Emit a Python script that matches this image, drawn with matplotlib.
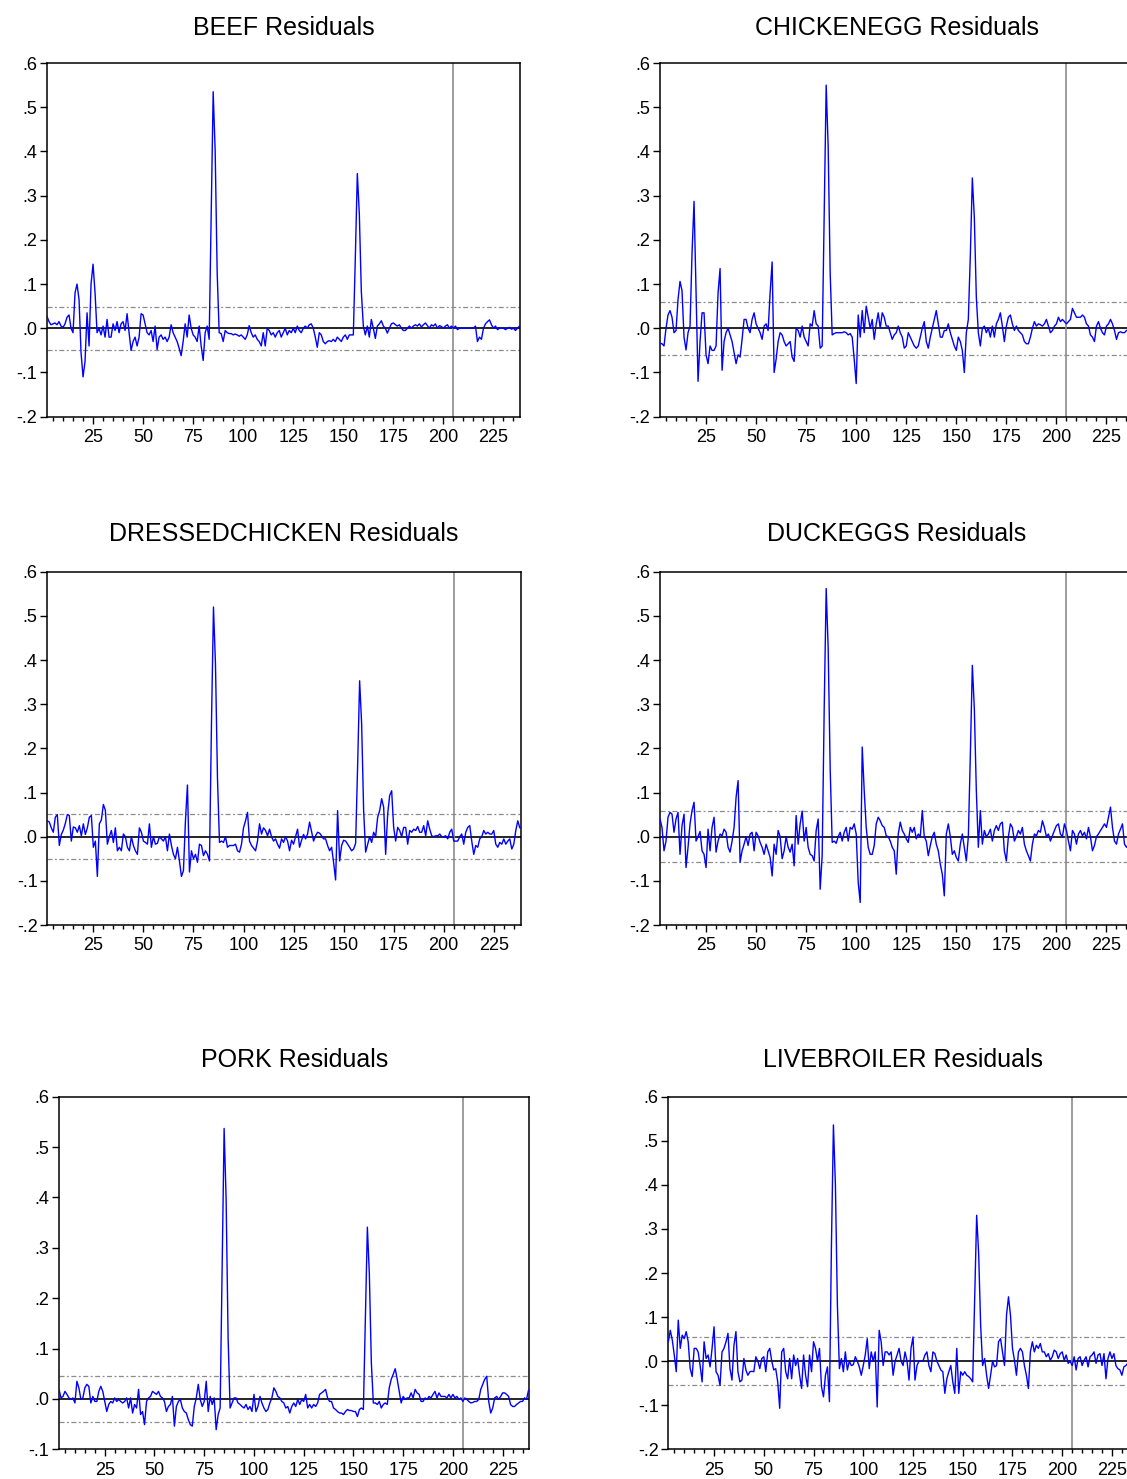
import numpy as np
import matplotlib
matplotlib.use("Agg")
import matplotlib.pyplot as plt
from matplotlib.ticker import MultipleLocator, FuncFormatter

plt.rcParams['font.family'] = ['Liberation Sans', 'DejaVu Sans']

# ---------------- data (observation 1..240) ----------------
titles = ["BEEF Residuals", "CHICKENEGG Residuals", "DRESSEDCHICKEN Residuals",
          "DUCKEGGS Residuals", "PORK Residuals", "LIVEBROILER Residuals"]

beef = [
    0.03, 0.027, 0.015, 0.008, 0.01, 0.012, 0.008, 0.015, 0.005, 0.002,
    0.01, 0.025, 0.03, 0.0, -0.01, 0.08, 0.10, 0.065, -0.055, -0.11,
    -0.075, 0.035, -0.04, 0.10, 0.145, 0.08, -0.01, 0.0, -0.015, 0.005,
    -0.02, 0.02, -0.02, -0.02, 0.01, -0.005, 0.015, -0.01, 0.01, 0.015,
    -0.005, 0.033, -0.01, -0.05, -0.03, -0.02, -0.04, -0.02, 0.033, 0.03,
    0.01, -0.01, -0.015, -0.005, -0.03, 0.005, -0.048, -0.02, -0.015, -0.025,
    -0.02, -0.03, -0.02, 0.008, -0.01, -0.02, -0.03, -0.045, -0.062, -0.03,
    0.01, -0.02, 0.03, 0.0, -0.015, -0.02, -0.03, 0.005, -0.04, -0.073,
    -0.01, 0.005, -0.025, 0.25, 0.535, 0.40, 0.125, -0.01, -0.012, -0.03,
    -0.005, -0.01, -0.012, -0.012, -0.015, -0.013, -0.015, -0.018, -0.015, -0.02,
    -0.025, -0.015, 0.006, -0.01, -0.02, -0.015, -0.025, -0.03, -0.04, -0.01,
    -0.04, 0.0, -0.005, -0.015, -0.01, -0.02, -0.01, -0.005, -0.02, -0.01,
    0.0, -0.015, -0.005, -0.01, 0.0, -0.01, 0.005, -0.005, -0.01, 0.0,
    0.005, 0.0, 0.008, 0.01, 0.0, -0.02, -0.043, -0.01, -0.015, -0.03,
    -0.035, -0.03, -0.028, -0.03, -0.025, -0.03, -0.02, -0.025, -0.03, -0.02,
    -0.015, -0.025, -0.015, -0.015, -0.015, 0.16, 0.35, 0.258, 0.083, 0.005,
    -0.015, 0.005, -0.02, 0.02, 0.0, -0.023, 0.005, 0.01, 0.017, 0.005,
    0.0, -0.011, 0.0, 0.01, 0.012, 0.008, 0.005, 0.008, 0.0, -0.005,
    -0.005, 0.0, 0.005, 0.0, 0.005, 0.008, 0.005, 0.01, 0.003, 0.008,
    0.012, 0.006, 0.0, 0.008, 0.005, 0.01, 0.0, 0.006, 0.004, 0.0,
    0.005, 0.008, 0.0, 0.005, 0.0, 0.005, -0.003, 0.0, 0.0, 0.0,
    0.0, 0.0, 0.0, 0.0, 0.0, 0.005, -0.03, -0.02, -0.025, 0.0,
    0.01, 0.015, 0.019, 0.008, 0.0, 0.005, -0.003, 0.0, 0.0, 0.0,
    -0.003, 0.0, 0.002, -0.002, 0.0, -0.005, 0.0, 0.005, 0.005, 0.005,
]

chickenegg = [
    -0.03, -0.034, -0.035, -0.04, 0.0, 0.03, 0.04, 0.025, -0.01, -0.005,
    0.065, 0.106, 0.085, -0.02, -0.049, -0.01, 0.005, 0.17, 0.287, 0.079,
    -0.12, -0.03, 0.035, 0.035, -0.06, -0.08, -0.04, -0.05, -0.05, -0.04,
    0.08, 0.135, -0.095, -0.03, -0.01, 0.0, -0.015, -0.03, -0.055, -0.08,
    -0.06, -0.065, -0.025, 0.02, 0.02, 0.0, -0.01, 0.02, 0.035, 0.01,
    0.0, -0.01, -0.025, 0.005, 0.01, -0.005, 0.08, 0.15, -0.1, -0.07,
    -0.03, -0.01, -0.015, -0.03, -0.04, -0.035, -0.03, -0.065, -0.075, 0.0,
    -0.005, -0.02, 0.005, -0.02, -0.03, -0.04, 0.01, 0.005, 0.04, 0.01,
    0.005, -0.045, -0.04, 0.255, 0.55, 0.41, 0.125, -0.015, -0.012, -0.01,
    -0.01, -0.01, -0.01, -0.008, -0.01, -0.015, -0.012, -0.02, -0.07, -0.125,
    0.03, -0.02, 0.04, -0.01, 0.05, 0.025, 0.0, 0.02, -0.025, 0.01,
    0.035, 0.0, 0.035, 0.025, 0.005, 0.005, -0.01, -0.025, -0.015, -0.01,
    0.005, -0.01, -0.02, -0.045, -0.04, -0.01, -0.02, -0.03, -0.04, -0.045,
    -0.04, -0.02, 0.0, 0.015, -0.03, -0.045, -0.02, 0.0, 0.02, 0.04,
    0.01, -0.02, -0.02, -0.005, -0.005, 0.01, -0.01, -0.025, -0.04, -0.05,
    -0.02, -0.03, -0.05, -0.1, -0.01, 0.02, 0.165, 0.34, 0.25, 0.07,
    -0.01, -0.04, 0.0, 0.005, -0.01, 0.0, -0.02, 0.005, -0.02, 0.01,
    0.02, 0.035, 0.005, -0.03, 0.005, 0.025, 0.03, 0.01, -0.005, 0.005,
    -0.005, -0.01, -0.015, -0.03, -0.035, -0.035, -0.02, 0.0, 0.015, 0.005,
    0.01, 0.008, 0.005, 0.01, 0.02, 0.005, -0.01, -0.005, 0.005, 0.01,
    0.025, 0.015, 0.02, 0.015, 0.01, 0.015, 0.02, 0.045, 0.035, 0.025,
    0.025, 0.025, 0.03, 0.025, 0.01, 0.005, -0.015, -0.02, -0.03, 0.005,
    0.015, 0.0, -0.01, -0.015, 0.005, 0.01, 0.02, 0.01, -0.005, -0.025,
    -0.01, -0.008, -0.01, -0.01, -0.005, -0.005, -0.005, 0.0, 0.0, 0.0,
]

dressedchicken = [
    0.036, 0.036, 0.033, 0.02, 0.01, 0.044, 0.05, -0.02, 0.005, 0.015,
    0.03, 0.05, 0.048, -0.01, 0.022, 0.02, 0.01, 0.025, 0.002, 0.029,
    0.005, 0.02, 0.044, 0.048, -0.024, -0.01, -0.09, 0.029, 0.038, 0.073,
    0.06, -0.017, 0.0, 0.014, -0.013, 0.02, -0.032, -0.024, -0.032, 0.006,
    0.0, -0.024, -0.032, 0.0, -0.02, -0.032, -0.04, 0.02, 0.01, -0.01,
    -0.013, -0.017, 0.029, -0.024, 0.0, -0.017, -0.015, 0.0, -0.005, -0.01,
    0.0, -0.032, 0.006, -0.02, -0.04, -0.05, -0.024, -0.055, -0.09, -0.077,
    0.036, 0.117, -0.08, -0.032, -0.05, -0.04, -0.058, -0.017, -0.02, -0.043,
    -0.032, -0.04, -0.055, 0.256, 0.52, 0.39, 0.132, -0.013, -0.01, -0.013,
    0.0, -0.024, -0.02, -0.02, -0.02, -0.017, -0.032, -0.035, -0.017, 0.02,
    0.036, 0.055, -0.01, -0.02, -0.026, -0.032, -0.01, 0.029, 0.006, 0.02,
    0.014, 0.002, 0.017, 0.0, -0.01, -0.005, -0.017, -0.026, -0.005, -0.013,
    0.0, -0.01, -0.032, -0.008, -0.017, 0.0, 0.017, -0.024, -0.008, 0.005,
    -0.005, 0.006, 0.033, 0.012, -0.01, 0.002, 0.01, 0.008, 0.002, -0.005,
    -0.005, -0.02, -0.032, -0.024, -0.058, -0.098, 0.059, -0.055, -0.02, -0.008,
    -0.01, -0.017, -0.024, -0.032, -0.028, -0.015, 0.161, 0.353, 0.256, 0.059,
    -0.035, -0.017, 0.0, -0.013, 0.01, 0.0, 0.044, 0.059, 0.086, 0.067,
    -0.04, 0.051, 0.093, 0.104, 0.021, -0.01, 0.021, 0.014, 0.0, 0.021,
    0.021, -0.017, 0.014, 0.01, 0.017, 0.014, 0.023, 0.01, 0.01, 0.025,
    0.002, 0.036, 0.017, 0.002, 0.0, 0.002, 0.002, 0.006, 0.0, 0.0,
    0.002, -0.005, 0.01, 0.017, -0.01, -0.01, -0.01, 0.0, 0.006, -0.017,
    0.01, 0.021, 0.025, -0.01, -0.04, -0.02, -0.024, -0.005, 0.0, 0.014,
    0.006, 0.01, 0.006, 0.006, 0.014, -0.017, -0.024, -0.013, -0.017, -0.005,
    -0.017, -0.01, -0.005, -0.028, -0.017, 0.014, 0.036, 0.02, 0.02, 0.02,
]

duckeggs = [
    0.03, 0.04, 0.021, -0.032, -0.01, 0.044, 0.055, 0.051, 0.01, 0.04,
    0.055, -0.04, 0.025, 0.051, -0.07, -0.024, 0.029, 0.059, 0.078, -0.01,
    0.0, 0.012, -0.032, -0.04, -0.07, 0.017, -0.032, 0.021, 0.044, -0.035,
    -0.01, 0.006, 0.002, 0.017, 0.01, -0.024, -0.035, -0.01, 0.021, 0.089,
    0.127, -0.058, -0.032, -0.017, 0.0, -0.02, 0.006, 0.01, -0.032, 0.01,
    0.002, -0.013, -0.024, -0.04, -0.017, -0.032, -0.047, -0.089, -0.017, -0.04,
    0.014, 0.0, -0.05, -0.032, 0.0, -0.024, -0.035, -0.017, -0.066, 0.048,
    -0.017, 0.029, 0.058, -0.01, 0.021, -0.024, -0.04, -0.043, -0.055, 0.014,
    0.04, -0.119, -0.043, 0.286, 0.562, 0.426, 0.154, -0.013, -0.01, -0.015,
    0.0, 0.01, -0.01, 0.01, 0.021, -0.01, 0.021, 0.017, 0.029, 0.006,
    -0.104, -0.149, 0.203, 0.104, 0.021, -0.024, -0.04, -0.04, -0.02, 0.029,
    0.044, 0.036, 0.025, 0.021, 0.002, 0.0, -0.01, -0.024, -0.032, -0.085,
    0.006, 0.033, 0.014, 0.006, -0.005, -0.013, 0.021, 0.01, 0.021, -0.005,
    0.006, 0.0, 0.059, 0.0, -0.01, -0.043, -0.02, 0.0, 0.01, -0.017,
    -0.032, -0.062, -0.085, -0.134, 0.006, 0.029, 0.0, -0.04, -0.032, -0.047,
    -0.055, -0.017, 0.006, -0.024, -0.055, 0.0, 0.184, 0.388, 0.29, 0.104,
    -0.024, 0.059, -0.017, 0.014, 0.0, 0.006, 0.017, -0.01, 0.014, 0.025,
    0.014, 0.029, 0.033, -0.032, -0.055, 0.0, 0.029, 0.021, -0.01, 0.0,
    0.014, 0.006, 0.021, -0.017, -0.032, -0.043, -0.055, -0.017, 0.006, 0.002,
    0.014, 0.01, 0.036, 0.021, 0.0, 0.006, -0.01, 0.002, 0.014, 0.025,
    0.029, 0.006, 0.0, 0.029, 0.014, -0.01, -0.032, 0.014, 0.006, -0.017,
    0.006, 0.014, 0.002, 0.01, -0.005, 0.021, 0.0, -0.032, -0.02, 0.0,
    0.006, 0.014, 0.021, 0.029, 0.021, 0.044, 0.067, 0.021, -0.01, -0.017,
    0.006, 0.017, 0.029, -0.017, -0.024, -0.017, -0.01, 0.0, 0.0, 0.0,
]

pork = [
    0.02, 0.019, 0.002, 0.005, 0.015, 0.009, 0.002, -0.001, 0.002, -0.008,
    0.035, 0.022, -0.001, 0.002, 0.022, 0.029, 0.025, -0.008, 0.005, -0.005,
    -0.005, 0.015, 0.025, 0.015, -0.005, -0.025, -0.011, -0.005, -0.008, 0.002,
    -0.005, -0.001, -0.005, -0.008, -0.005, 0.002, -0.018, 0.002, -0.028, -0.011,
    -0.018, 0.019, -0.031, -0.025, -0.051, -0.005, 0.002, 0.005, 0.015, 0.012,
    0.009, 0.015, 0.005, 0.002, -0.005, -0.025, -0.015, -0.011, 0.005, -0.054,
    -0.015, -0.005, -0.001, -0.018, -0.025, -0.028, -0.041, -0.051, -0.054, -0.015,
    0.002, 0.029, -0.001, -0.015, -0.005, 0.035, -0.025, 0.005, -0.011, 0.002,
    -0.061, -0.031, -0.018, 0.258, 0.537, 0.397, 0.122, -0.018, -0.008, 0.002,
    0.002, -0.008, -0.011, -0.015, -0.018, -0.011, -0.021, -0.015, -0.025, 0.009,
    -0.025, -0.015, 0.005, -0.008, -0.018, -0.025, -0.021, -0.008, 0.002, 0.022,
    0.015, 0.005, 0.002, -0.005, -0.008, -0.018, -0.015, -0.028, -0.015, -0.008,
    -0.015, -0.001, -0.011, -0.001, -0.005, 0.009, -0.018, -0.011, -0.018, -0.011,
    -0.015, -0.008, 0.009, 0.012, 0.015, 0.019, 0.002, -0.005, -0.005, -0.018,
    -0.021, -0.025, -0.028, -0.028, -0.031, -0.025, -0.021, -0.023, -0.023, -0.025,
    -0.025, -0.035, -0.021, -0.018, -0.021, 0.158, 0.341, 0.248, 0.072, -0.008,
    -0.008, -0.011, -0.005, -0.018, -0.011, -0.008, -0.011, 0.022, 0.039, 0.049,
    0.06, 0.039, 0.015, -0.008, 0.005, -0.001, 0.002, 0.002, 0.012, 0.002,
    0.019, 0.012, 0.009, -0.005, -0.005, 0.002, -0.001, 0.005, 0.002, 0.009,
    0.015, 0.002, 0.012, 0.005, 0.005, 0.005, 0.002, 0.009, 0.002, 0.009,
    0.002, 0.005, -0.001, 0.002, -0.005, 0.002, -0.001, -0.005, -0.008, -0.007,
    -0.005, -0.005, -0.001, 0.019, 0.029, 0.039, 0.045, -0.005, -0.028, -0.018,
    0.002, 0.005, -0.001, 0.005, 0.012, 0.012, 0.009, 0.005, -0.011, -0.015,
    -0.015, -0.011, -0.008, -0.005, -0.005, 0.002, -0.001, 0.017, 0.017, 0.017,
]

livebroiler = [
    0.05, 0.044, 0.07, 0.048, 0.014, -0.024, 0.093, 0.029, 0.059, 0.051,
    0.067, 0.044, -0.017, -0.035, 0.029, 0.029, 0.021, -0.01, -0.047, 0.044,
    0.006, 0.014, -0.013, 0.029, 0.078, -0.024, -0.032, -0.055, 0.021, 0.029,
    0.044, 0.063, -0.017, -0.043, 0.036, 0.067, -0.024, -0.047, -0.043, 0.006,
    -0.02, -0.032, -0.024, -0.023, -0.024, 0.01, 0.0, -0.017, 0.006, 0.01,
    -0.024, 0.021, 0.029, 0.0, -0.02, -0.017, -0.047, -0.107, 0.021, 0.029,
    -0.024, -0.04, 0.006, -0.04, 0.014, -0.01, 0.006, -0.032, -0.062, 0.014,
    -0.032, -0.058, 0.014, -0.024, 0.044, 0.029, 0.0, 0.029, -0.058, -0.081,
    -0.032, -0.013, -0.092, 0.263, 0.536, 0.4, 0.127, -0.017, 0.006, -0.024,
    0.021, -0.02, 0.0, -0.01, -0.008, 0.01, 0.0, -0.013, -0.032, -0.01,
    0.014, 0.051, -0.017, 0.021, 0.0, 0.021, -0.104, 0.07, 0.044, -0.01,
    0.021, 0.021, 0.014, 0.021, -0.032, 0.0, 0.014, 0.029, 0.0, -0.01,
    0.021, 0.0, -0.043, 0.029, 0.055, -0.043, -0.01, 0.0, 0.0, 0.0,
    0.014, 0.021, -0.01, -0.024, 0.021, 0.017, 0.0, -0.01, -0.02, -0.024,
    -0.073, -0.04, -0.024, -0.01, -0.047, -0.073, 0.029, -0.073, -0.024, -0.032,
    -0.024, -0.032, -0.035, -0.04, -0.047, 0.142, 0.331, 0.244, 0.082, -0.01,
    0.006, -0.032, -0.062, -0.032, 0.0, -0.013, -0.01, 0.044, 0.051, 0.021,
    -0.01, 0.104, 0.146, 0.104, 0.029, 0.002, -0.032, 0.021, 0.029, 0.021,
    -0.01, -0.032, -0.062, 0.021, 0.044, 0.021, 0.036, 0.029, 0.04, 0.021,
    0.021, 0.01, 0.017, 0.002, 0.01, 0.025, 0.021, 0.006, 0.017, 0.021,
    0.002, 0.014, -0.005, 0.0, -0.01, 0.01, -0.02, 0.006, 0.01, -0.01,
    0.002, 0.01, -0.013, 0.01, 0.014, 0.021, -0.005, 0.014, 0.017, -0.01,
    0.017, -0.04, 0.006, 0.021, 0.006, 0.017, -0.01, -0.017, -0.02, -0.032,
    -0.013, -0.01, -0.005, -0.02, 0.0, -0.01, -0.015, -0.005, 0.0, -0.01,
]

series = [beef, chickenegg, dressedchicken, duckeggs, pork, livebroiler]
se_band = [0.049, 0.060, 0.051, 0.058, 0.046, 0.054]
y_min = [-0.2, -0.2, -0.2, -0.2, -0.1, -0.2]
y_max = 0.6
x_range = (2, 238.4)
split_obs = 205

# ---------------- layout (pixel boxes: left, top, right, bottom) ----------------
W, H = 1127, 1479
boxes = [
    (47.0, 63.0, 520.3, 416.7),
    (660.0, 63.0, 1133.3, 416.7),
    (47.3, 571.7, 520.6, 925.0),
    (660.0, 571.7, 1133.3, 925.0),
    (59.0, 1096.7, 529.3, 1449.3),
    (668.3, 1096.7, 1138.6, 1449.3),
]
title_gap = [35, 35, 37.5, 37.5, 37, 37]

fig = plt.figure(figsize=(W / 100, H / 100), dpi=100)
fig.patch.set_facecolor("white")


def yfmt(v, pos):
    s = f"{v:.1f}"
    s = s.replace("0.", ".")
    if s == "-.0":
        s = ".0"
    return s


for k in range(6):
    l, t, r, b = boxes[k]
    ax = fig.add_axes([l / W, 1 - b / H, (r - l) / W, (b - t) / H])
    vals = np.array(series[k], dtype=float)
    obs = np.arange(1, len(vals) + 1)

    ax.axhline(0, color="black", lw=1.2, zorder=2)
    ax.axhline(se_band[k], color="#8c8c8c", lw=0.9, ls=(0, (4, 2, 1.5, 2)), zorder=2)
    ax.axhline(-se_band[k], color="#8c8c8c", lw=0.9, ls=(0, (4, 2, 1.5, 2)), zorder=2)
    ax.axvline(split_obs, color="#8c8c8c", lw=1.2, zorder=2)
    ax.plot(obs, vals, color="#0000ff", lw=1.0, zorder=3)

    ax.set_xlim(*x_range)
    ax.set_ylim(y_min[k], y_max)
    ax.xaxis.set_major_locator(MultipleLocator(25))
    ax.xaxis.set_minor_locator(MultipleLocator(5))
    ax.yaxis.set_major_locator(MultipleLocator(0.1))
    ax.yaxis.set_major_formatter(FuncFormatter(yfmt))

    ax.tick_params(axis="x", which="major", direction="out", length=5, width=1,
                   labelsize=13, pad=4, top=False, bottom=True)
    ax.tick_params(axis="x", which="minor", direction="out", length=3, width=1,
                   top=False, bottom=True)
    ax.tick_params(axis="y", which="major", direction="out", length=5, width=1,
                   labelsize=13, pad=2, left=True, right=False)
    for sp in ax.spines.values():
        sp.set_linewidth(1.1)
        sp.set_color("black")

    ax.text(0.5, 1 + title_gap[k] / (b - t), titles[k], transform=ax.transAxes,
            ha="center", va="center", fontsize=18)

fig.savefig("out.png", dpi=100, facecolor="white")
